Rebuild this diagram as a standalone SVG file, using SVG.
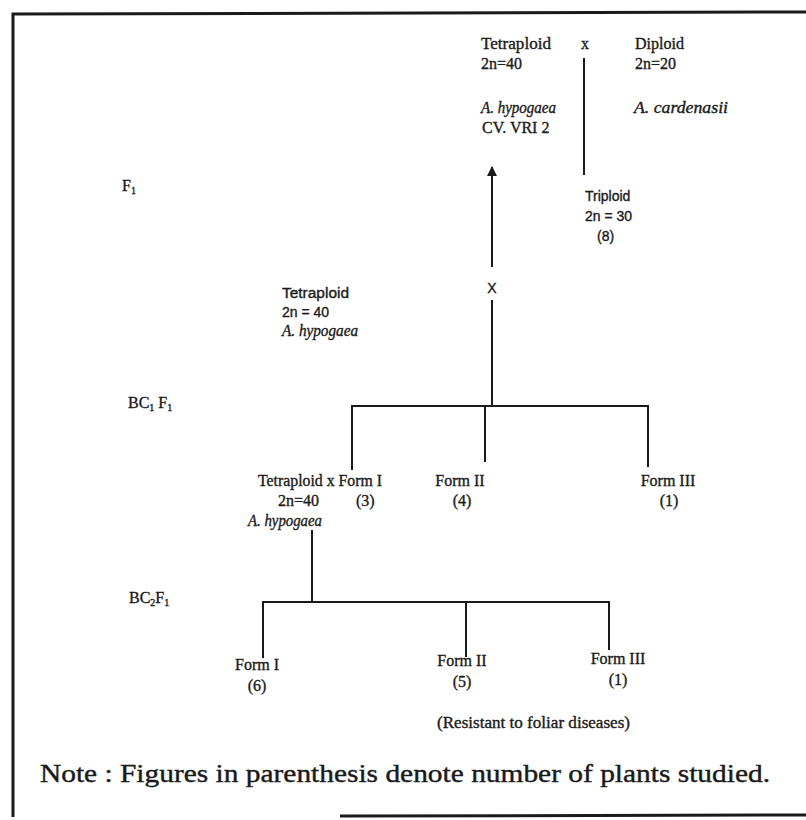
<svg xmlns="http://www.w3.org/2000/svg" width="806" height="820" viewBox="0 0 806 820">
<style>
text{font-family:"Liberation Serif","Times New Roman",serif;font-size:16px;fill:#1a1a1a;stroke:#1a1a1a;stroke-width:0.35}
.i{font-style:italic}
.m{text-anchor:middle}
.lab{font-family:"Liberation Sans",Arial,sans-serif;font-size:14px}
.note{font-size:25px;stroke-width:0.4}
.c line,.c path{stroke:#1a1a1a;stroke-width:2;fill:none}
.frame{stroke:#1a1a1a;stroke-width:3;fill:none}
</style>
<defs>
<marker id="ah" viewBox="0 0 10 10" refX="9" refY="5" markerWidth="5" markerHeight="5" orient="auto-start-reverse" markerUnits="strokeWidth">
<path d="M0,0 L10,5 L0,10 Z" fill="#1a1a1a"/>
</marker>
</defs>
<rect width="806" height="820" fill="#fff"/>
<g id="frame">
<path class="frame" d="M13,817 L13,14 L806,12"/>
<path class="frame" d="M340,816 L806,815"/>
</g>
<g id="generation-labels">
<text x="122" y="191">F<tspan font-size="10" dy="3">1</tspan></text>
<text x="128" y="408">BC<tspan font-size="10" dy="3">1</tspan><tspan dy="-3"> F</tspan><tspan font-size="10" dy="3">1</tspan></text>
<text x="129" y="603">BC<tspan font-size="10" dy="3">2</tspan><tspan dy="-3">F</tspan><tspan font-size="10" dy="3">1</tspan></text>
</g>
<g class="c" id="connectors">
<line x1="584" y1="58" x2="584" y2="175"/>
<line x1="492" y1="267" x2="492" y2="167" marker-end="url(#ah)"/>
<line x1="492" y1="300" x2="492" y2="406"/>
<path d="M352,470 L352,406 L648,406 L648,467"/>
<line x1="485" y1="406" x2="485" y2="462"/>
<line x1="312" y1="530" x2="312" y2="602"/>
<path d="M263,658 L263,602 L609,602 L609,650"/>
<line x1="466" y1="602" x2="466" y2="657"/>
</g>
<g id="p1-tetraploid">
<text x="481" y="49" textLength="70" lengthAdjust="spacingAndGlyphs">Tetraploid</text>
<text x="481" y="69">2n=40</text>
<text x="481" y="113" class="i" textLength="75" lengthAdjust="spacingAndGlyphs">A. hypogaea</text>
<text x="482" y="133">CV. VRI 2</text>
</g>
<g id="cross1"><text x="581" y="49">x</text></g>
<g id="p2-diploid">
<text x="635" y="49">Diploid</text>
<text x="635" y="69">2n=20</text>
<text x="634" y="113" class="i" textLength="94" lengthAdjust="spacingAndGlyphs">A. cardenasii</text>
</g>
<g id="f1-triploid">
<text x="585" y="201" class="lab">Triploid</text>
<text x="585" y="221" class="lab">2n = 30</text>
<text x="597" y="241" class="lab">(8)</text>
</g>
<g id="cross2"><text x="492" y="293" class="m lab">X</text></g>
<g id="bc1-tetraploid">
<text x="282" y="298" class="lab" textLength="67" lengthAdjust="spacingAndGlyphs">Tetraploid</text>
<text x="282" y="317" class="lab">2n = 40</text>
<text x="282" y="336" class="i" textLength="76" lengthAdjust="spacingAndGlyphs">A.  hypogaea</text>
</g>
<g id="bc1-form1">
<text x="258" y="486" textLength="124" lengthAdjust="spacingAndGlyphs">Tetraploid x Form I</text>
<text x="278" y="506">2n=40</text>
<text x="356" y="506">(3)</text>
<text x="248" y="526" class="i" textLength="74" lengthAdjust="spacingAndGlyphs">A.  hypogaea</text>
</g>
<g id="bc1-form2">
<text x="460" y="486" class="m">Form II</text>
<text x="462" y="506" class="m">(4)</text>
</g>
<g id="bc1-form3">
<text x="668" y="486" class="m">Form III</text>
<text x="669" y="506" class="m">(1)</text>
</g>
<g id="bc2-form1">
<text x="257" y="670" class="m">Form I</text>
<text x="257" y="691" class="m">(6)</text>
</g>
<g id="bc2-form2">
<text x="462" y="666" class="m">Form II</text>
<text x="462" y="687" class="m">(5)</text>
</g>
<g id="bc2-form3">
<text x="618" y="664" class="m">Form III</text>
<text x="618" y="685" class="m">(1)</text>
<text x="437" y="728" textLength="193" lengthAdjust="spacingAndGlyphs">(Resistant to foliar diseases)</text>
</g>
<g id="note">
<text x="40" y="782" class="note" textLength="730" lengthAdjust="spacingAndGlyphs">Note : Figures in parenthesis denote number of plants studied.</text>
</g>
</svg>
